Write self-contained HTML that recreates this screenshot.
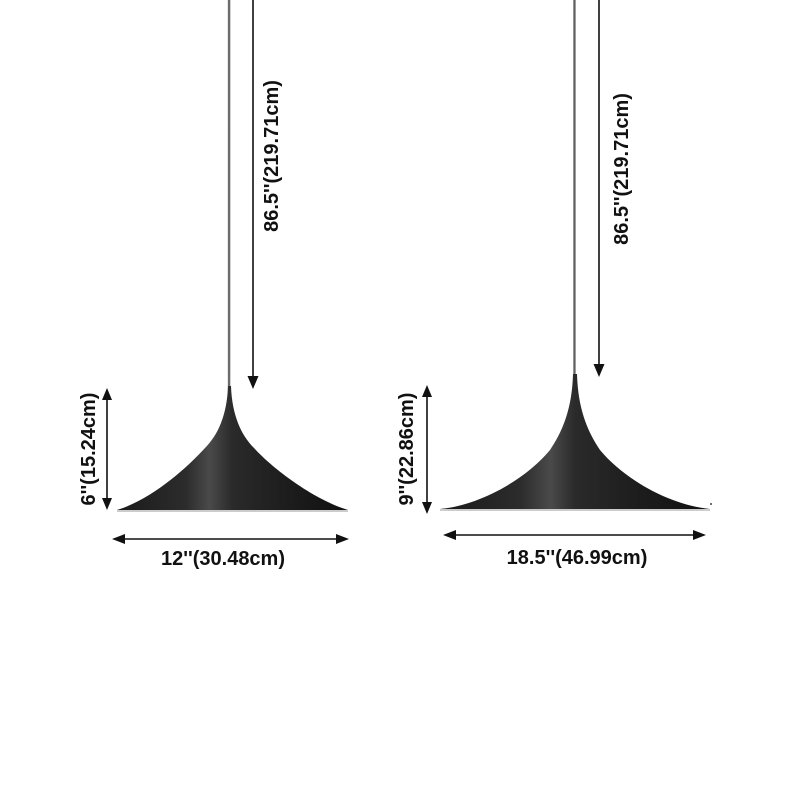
<!DOCTYPE html>
<html>
<head>
<meta charset="utf-8">
<style>
html,body{margin:0;padding:0;background:#fff;}
svg{display:block;}
text{font-family:"Liberation Sans",Arial,sans-serif;font-weight:bold;font-size:20px;fill:#111;}
</style>
</head>
<body>
<svg width="800" height="800" viewBox="0 0 800 800" xmlns="http://www.w3.org/2000/svg">
<defs>
  <linearGradient id="shadeL" x1="117" y1="0" x2="348" y2="0" gradientUnits="userSpaceOnUse">
    <stop offset="0" stop-color="#1a1a1a"/>
    <stop offset="0.3" stop-color="#2c2c2c"/>
    <stop offset="0.4" stop-color="#4a4a4a"/>
    <stop offset="0.5" stop-color="#2a2a2a"/>
    <stop offset="0.75" stop-color="#1c1c1c"/>
    <stop offset="1" stop-color="#111"/>
  </linearGradient>
  <linearGradient id="shadeR" x1="440" y1="0" x2="710" y2="0" gradientUnits="userSpaceOnUse">
    <stop offset="0" stop-color="#1a1a1a"/>
    <stop offset="0.3" stop-color="#2c2c2c"/>
    <stop offset="0.41" stop-color="#4a4a4a"/>
    <stop offset="0.5" stop-color="#2a2a2a"/>
    <stop offset="0.75" stop-color="#1c1c1c"/>
    <stop offset="1" stop-color="#111"/>
  </linearGradient>
  <linearGradient id="cord" x1="0" y1="0" x2="1" y2="0">
    <stop offset="0" stop-color="#888"/>
    <stop offset="0.5" stop-color="#555"/>
    <stop offset="1" stop-color="#999"/>
  </linearGradient>
</defs>

<!-- LEFT LAMP -->
<rect x="227.8" y="0" width="2.6" height="392" fill="url(#cord)"/>
<path d="M228,386 C227,415 218,435 205,448 C185,470 150,500 117,510 L348,510 C315,500 274,470 254,448 C241,435 232,415 231,386 Z" fill="url(#shadeL)"/>
<line x1="117" y1="511" x2="348" y2="511" stroke="#bbb" stroke-width="1.5"/>

<!-- top dimension left -->
<line x1="253" y1="0" x2="253" y2="379" stroke="#111" stroke-width="1.6"/>
<polygon points="247.5,376 258.5,376 253,389" fill="#111"/>
<text transform="translate(278,156) rotate(-90)" text-anchor="middle">86.5''(219.71cm)</text>

<!-- height left -->
<line x1="107" y1="396" x2="107" y2="502" stroke="#111" stroke-width="1.6"/>
<polygon points="107,388 102,400 112,400" fill="#111"/>
<polygon points="107,510 102,498 112,498" fill="#111"/>
<text transform="translate(95,449) rotate(-90)" text-anchor="middle">6''(15.24cm)</text>

<!-- width left -->
<line x1="120" y1="539" x2="341" y2="539" stroke="#111" stroke-width="1.6"/>
<polygon points="112,539 125,534 125,544" fill="#111"/>
<polygon points="349,539 336,534 336,544" fill="#111"/>
<text x="223" y="565" text-anchor="middle">12''(30.48cm)</text>

<!-- RIGHT LAMP -->
<rect x="573.2" y="0" width="2.6" height="380" fill="url(#cord)"/>
<path d="M573,374 C572,410 562,432 550,450 C525,480 480,505 440,509 L710,509 C670,505 625,480 600,450 C588,432 578,410 577,374 Z" fill="url(#shadeR)"/>
<line x1="440" y1="510" x2="710" y2="510" stroke="#bbb" stroke-width="1.5"/>
<circle cx="711" cy="504" r="1" fill="#444"/>

<!-- top dimension right -->
<line x1="599" y1="0" x2="599" y2="367" stroke="#111" stroke-width="1.6"/>
<polygon points="593.5,364 604.5,364 599,377" fill="#111"/>
<text transform="translate(628,169) rotate(-90)" text-anchor="middle">86.5''(219.71cm)</text>

<!-- height right -->
<line x1="427" y1="393" x2="427" y2="506" stroke="#111" stroke-width="1.6"/>
<polygon points="427,385 422,397 432,397" fill="#111"/>
<polygon points="427,514 422,502 432,502" fill="#111"/>
<text transform="translate(413,449) rotate(-90)" text-anchor="middle">9''(22.86cm)</text>

<!-- width right -->
<line x1="451" y1="535" x2="698" y2="535" stroke="#111" stroke-width="1.6"/>
<polygon points="443,535 456,530 456,540" fill="#111"/>
<polygon points="706,535 693,530 693,540" fill="#111"/>
<text x="577" y="564" text-anchor="middle">18.5''(46.99cm)</text>
</svg>
</body>
</html>
